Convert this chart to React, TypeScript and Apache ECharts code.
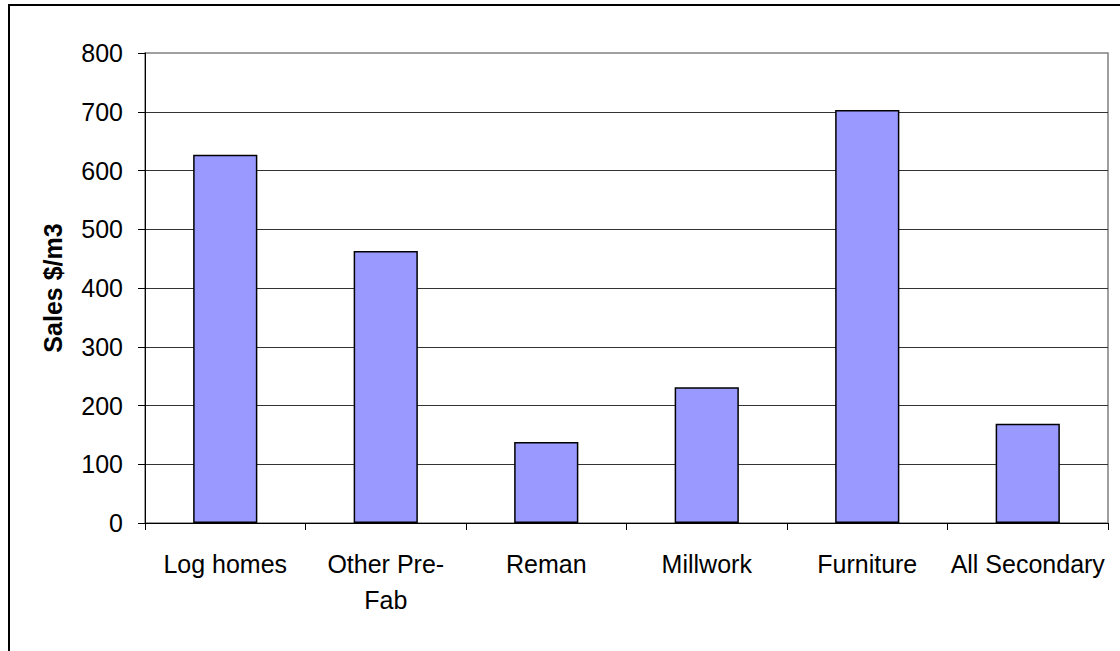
import React, { useEffect, useRef } from "react";
import * as echarts from "echarts";

const categories = ["Log homes", "Other Pre-Fab", "Reman", "Millwork", "Furniture", "All Secondary"];
const salesPerM3 = [627, 463, 138, 231, 703, 169];
const yTicks = { min: 0, max: 800, interval: 100 };
const yTitle = "Sales $/m3";

const FONT = "'Liberation Sans', Arial, sans-serif";

export default function App() {
  const ref = useRef<HTMLDivElement>(null);
  useEffect(() => {
    document.body.style.margin = "0";
    if (!ref.current) return;
    const chart = echarts.init(ref.current, null, { renderer: "svg" });
    chart.setOption({
      animation: false,
      backgroundColor: "#fff",
      textStyle: { fontFamily: FONT, color: "#000" },
      graphic: [
        {
          type: "rect",
          shape: { x: 9, y: 5, width: 1200, height: 700 },
          style: { fill: "none", stroke: "#000", lineWidth: 2 },
          silent: true,
          z: 100,
        },
      ],
      grid: {
        left: 145,
        right: 12,
        top: 53,
        bottom: 128,
        show: true,
        borderColor: "#808080",
        borderWidth: 1.5,
        backgroundColor: "#fff",
      },
      xAxis: {
        type: "category",
        data: categories,
        axisLine: { lineStyle: { color: "#000", width: 1 } },
        axisTick: { show: true, length: 7, lineStyle: { color: "#000" } },
        axisLabel: {
          color: "#000",
          fontFamily: FONT,
          fontSize: 25,
          lineHeight: 36,
          margin: 23,
          interval: 0,
          formatter: (v: string) => v.replace("Pre-Fab", "Pre-\nFab"),
        },
      },
      yAxis: {
        type: "value",
        min: yTicks.min,
        max: yTicks.max,
        interval: yTicks.interval,
        name: yTitle,
        nameLocation: "middle",
        nameRotate: 90,
        nameGap: 80,
        nameTextStyle: { fontFamily: FONT, fontSize: 25, fontWeight: "bold", color: "#000" },
        axisLine: { show: true, lineStyle: { color: "#000", width: 1 } },
        axisTick: { show: true, length: 7, lineStyle: { color: "#000" } },
        axisLabel: { color: "#000", fontFamily: FONT, fontSize: 25, margin: 22 },
        splitLine: { show: true, showMaxLine: false, lineStyle: { color: "#333", width: 1 } },
      },
      series: [
        {
          type: "bar",
          data: salesPerM3,
          barCategoryGap: "60%",
          itemStyle: { color: "#9999FF", borderColor: "#000", borderWidth: 1.5 },
        },
      ],
    });
    return () => chart.dispose();
  }, []);
  return <div ref={ref} style={{ width: 1120, height: 651 }} />;
}
